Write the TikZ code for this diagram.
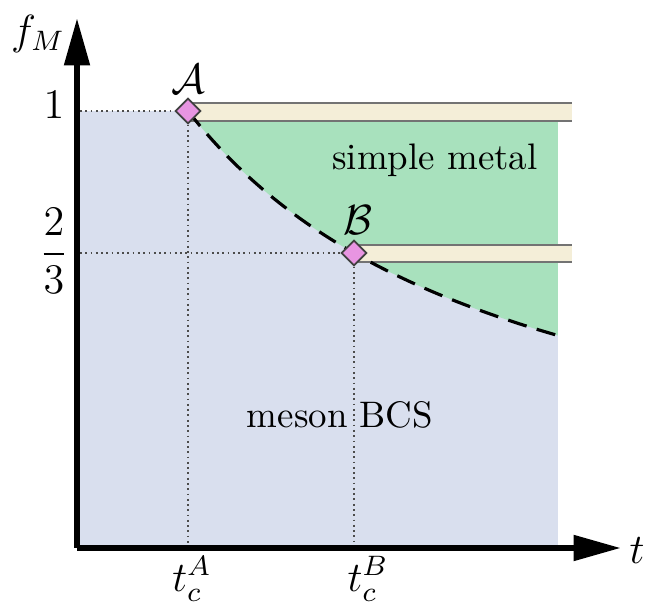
\documentclass[tikz,border=0pt]{standalone}
\usepackage{amsmath}
\usetikzlibrary{shapes.geometric,arrows.meta}
\definecolor{cblue}{HTML}{D9DFEE}
\definecolor{cgreen}{HTML}{A8E1BD}
\definecolor{cbar}{HTML}{F4EED8}
\definecolor{cpt}{HTML}{E895E2}
\begin{document}
\begin{tikzpicture}[
    x=0.1mm, y=-0.1mm,
    axis/.style={line width=1.8pt, -{Triangle[length=13.5pt,width=7pt]}},
    guide/.style={densely dotted, draw=black!70, line width=0.5pt},
    barline/.style={draw=black!55, line width=0.6pt},
    pt/.style={diamond, aspect=1, draw=black!75, fill=cpt, line width=0.5pt,
      inner sep=0pt, minimum size=7.2pt},
    lbl/.style={font=\fontsize{10.5}{12}\selectfont, inner sep=1pt},
    mlbl/.style={font=\fontsize{11.5}{13}\selectfont, inner sep=1pt}
  ]
  % pixel positions
  \def\xo{77}  \def\yo{548}
  \def\xr{558} \def\xe{572}
  \def\xa{188} \def\ya{111}
  \def\xb{354} \def\yb{253}

  \useasboundingbox (0,0) rectangle (659,605);

  % phases
  \fill[cblue] (\xo,\ya) rectangle (\xr,\yo);
  \fill[cgreen] plot[domain=\xa:\xr, samples=60] (\x,{537-426*(332/(\x+144))})
    -- (\xr,\ya) -- cycle;

  % bars
  \fill[cbar] (\xa,103) rectangle (\xe,121);
  \draw[barline] (\xa,103) -- (\xe,103) (\xa,121) -- (\xe,121);
  \fill[cbar] (\xb,245) rectangle (\xe,262);
  \draw[barline] (\xb,245) -- (\xe,245) (\xb,262) -- (\xe,262);

  % boundary
  \draw[line width=0.9pt, dash pattern=on 5.5pt off 3pt]
    plot[domain=\xa:\xr, samples=60] (\x,{537-426*(332/(\x+144))});

  % points
  \node[pt] (A) at (\xa,\ya) {};
  \node[pt] (B) at (\xb,\yb) {};
  \coordinate (A1) at (80,\ya);
  \coordinate (A0) at (\xa,\yo);
  \coordinate (B1) at (80,\yb);
  \coordinate (B0) at (\xb,\yo);
  \draw[guide] (A1) -- (A.west);
  \draw[guide] (A.south) -- (A0);
  \draw[guide] (B1) -- (B.west);
  \draw[guide] (B.south) -- (B0);

  % axes
  \coordinate (O) at (\xo,\yo);
  \coordinate (ytip) at (\xo,18);
  \coordinate (xtip) at (621,\yo);
  \draw[axis] (O) -- (ytip);
  \draw[axis] (O) -- (xtip);

  % labels
  \node[mlbl] (fM) at (38,34) {$f_M$};
  \node[mlbl] (t) at (637,551) {$t$};
  \node[mlbl] (one) at (54,105) {$1$};
  \node[mlbl] (twothirds) at (54,251) {$\dfrac{2}{3}$};
  \node[mlbl] (Alab) at (188,79) {$\mathcal{A}$};
  \node[mlbl] (Blab) at (358,220) {$\mathcal{B}$};
  \node[mlbl] (tA) at (192,579) {$t_c^A$};
  \node[mlbl] (tB) at (368,579) {$t_c^B$};
  \node[lbl] (metal) at (435,160) {simple metal};
  \node[lbl] (bcs) at (340,415) {meson BCS};
\end{tikzpicture}
\end{document}
